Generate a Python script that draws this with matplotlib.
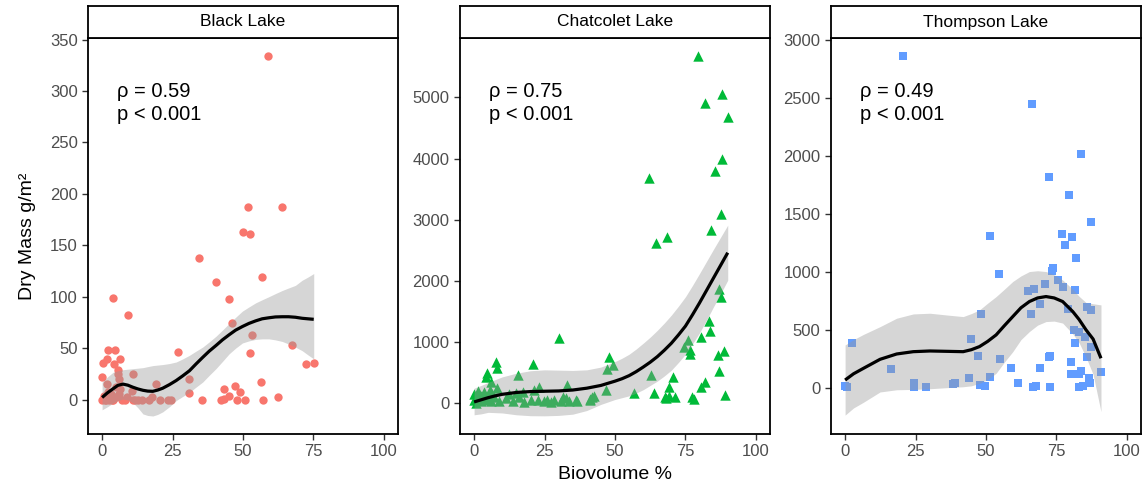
import matplotlib
matplotlib.use("Agg")
import matplotlib.pyplot as plt
import numpy as np

plt.rcParams['font.family'] = ['Liberation Sans', 'DejaVu Sans']

# ---------------- data ----------------
lakes = ["Black Lake", "Chatcolet Lake", "Thompson Lake"]
rho_labels = ["0.59", "0.75", "0.49"]
p_labels = ["< 0.001", "< 0.001", "< 0.001"]

black_x = [58.7, 51.9, 63.9, 50.1, 52.5, 34.4, 40.5, 44.9, 56.7, 3.9, 9.3, 46.2, 53.3, 67.4,
           52.6, 26.9, 72.2, 75.2, 2.0, 4.6, 0.3, 1.8, 4.2, 6.4, 5.5, 5.8, 10.8, 0.0, 6.1, 1.9,
           19.1, 30.7, 31.0, 56.4, 43.2, 47.3, 49.1, 35.5, 42.2, 43.3, 44.9, 47.9, 50.7, 57.1,
           62.5, 20.6, 23.4, 24.6, 16.5, 17.8, 12.9, 10.5, 10.8, 0.0, 0.5, 1.0, 2.5, 3.0, 4.0,
           5.0, 6.0, 7.0, 8.0, 9.0, 6.5, 5.0, 3.5, 2.0, 11.5, 14.0, 1.5]
black_y = [334, 187, 187, 163, 161, 138, 114, 98, 119, 99, 82, 74, 63, 53,
           45, 46, 35, 36, 48, 48, 36, 39, 35, 39, 29, 25, 25, 22, 20, 15,
           15, 20, 6, 17, 10, 13, 7, 0, 0, 1, 3, 0, 0, 0,
           2, 0, 0, 0, 0, 2, 0, 8, 0, 0, 3, 0, 0, 5, 0,
           2, 5, 0, 0, 2, 10, 12, 0, 7, 0, 0, 0]

chat_x = [79.4, 88.0, 82.1, 90.0, 87.9, 85.5, 62.1, 87.6, 83.9, 64.5, 68.4, 86.8, 87.6, 83.5,
          83.8, 75.9, 80.4, 74.4, 76.5, 76.7, 88.8, 86.5, 86.8, 70.6, 82.0, 80.4, 89.2, 69.2,
          64.0, 62.8, 56.8, 67.6, 68.2, 69.2, 71.2, 77.4, 78.2, 48.0, 47.1, 49.4, 46.7, 42.0,
          41.2, 36.2, 32.9, 30.1, 20.8, 15.5, 7.9, 8.2, 4.7, 4.1, 5.9,
          0.0, 0.0, 0.5, 1.0, 1.5, 2.5, 2.5, 3.5, 3.7, 4.8, 5.5, 6.0, 6.5, 7.2, 8.0, 9.0,
          11.3, 12.5, 13.7, 14.8, 16.0, 17.2, 17.8, 20.1, 21.3, 22.5, 23.1, 24.8, 26.0, 27.2,
          28.4, 30.7, 31.5, 32.5, 33.7, 36.6, 41.3, 42.5]
chat_y = [5676, 5049, 4913, 4684, 3987, 3797, 3677, 3088, 2832, 2625, 2723, 1863, 1743, 1351,
          1187, 1035, 1078, 926, 871, 806, 850, 784, 534, 436, 354, 272, 136, 261,
          163, 463, 174, 109, 82, 120, 109, 109, 71, 752, 561, 626, 218, 109,
          71, 54, 300, 1062, 637, 463, 670, 572, 490, 436, 338,
          50, 150, 0, 100, 200, 120, 30, 180, 60, 80, 220, 30, 150, 100, 250, 30,
          80, 150, 40, 163, 100, 190, 20, 50, 218, 60, 272, 30, 60, 20,
          60, 40, 100, 80, 40, 30, 60, 110]

thom_x = [20.4, 66.4, 83.6, 72.3, 79.4, 87.1, 51.3, 76.9, 80.5, 78.2, 81.8, 54.6, 73.8, 73.3,
          75.4, 71.1, 77.2, 65.0, 67.2, 81.5, 69.0, 79.0, 86.0, 87.4, 66.0, 48.2, 81.3, 82.9,
          85.0, 81.7, 44.5, 2.5, 87.4, 47.3, 72.3, 72.8, 86.0, 55.1, 80.1, 16.2, 58.8, 69.0,
          90.9, 83.7, 83.1, 80.0, 51.5, 43.8, 86.7, 86.9, 61.2, 38.2, 39.0, 47.8, 49.5, 24.3,
          24.3, 28.7, 0.0, 0.6, 66.6, 67.8, 72.6, 82.9, 84.3]
thom_y = [2862, 2450, 2020, 1816, 1666, 1435, 1314, 1326, 1303, 1231, 1121, 983, 1037, 1009,
          931, 893, 873, 836, 850, 844, 723, 680, 700, 671, 637, 637, 499, 478,
          435, 389, 421, 389, 349, 274, 262, 274, 268, 245, 225, 161, 170, 170,
          133, 144, 115, 115, 95, 86, 81, 43, 37, 32, 43, 23, 17, 37,
          3, 3, 17, 9, 6, 17, 6, 6, 14]

# smoother: x grid, fitted line, ribbon bounds
black_fit_x = [0, 1.9, 3.9, 5.6, 7.4, 9.1, 10.9, 12.7, 14.5, 16.2, 18.0, 19.7, 21.5, 23.9, 26.3,
               28.6, 31.0, 33.3, 35.7, 38.0, 40.4, 42.7, 45.1, 47.4, 49.8, 52.1, 54.5, 56.8,
               59.2, 61.5, 63.9, 66.2, 68.6, 71.0, 73.0, 75.1]
black_fit = [2, 6.5, 10.5, 13.8, 15, 14, 12, 10.3, 9, 8.2, 8, 9.2, 11, 14.5, 18.5,
             23, 28, 34.5, 41, 47, 52.5, 58, 63, 67.5, 71, 74, 76.5, 78.5,
             79.5, 80.3, 80.5, 80.5, 80, 79, 78.5, 78]
black_up = [17, 22, 26.5, 28, 29, 29.5, 30, 30.5, 31, 32, 33, 33.5, 34, 35, 36.5,
            39.5, 43, 47, 51, 56, 61.5, 67.5, 74, 80, 86, 90, 94, 97,
            100, 103, 106, 108.5, 111, 116, 119, 122.5]
black_lo = [-10, -7, -3.5, -1, 0.5, -0.5, -3, -8, -14, -15.5, -16, -14.5, -12, -7, -1,
            3, 7, 12, 17, 23.5, 30, 37, 44.5, 50, 55, 57, 58.5, 59,
            59, 58, 56.5, 54, 51, 47.5, 43.5, 39.5]

chat_fit_x = [0, 2.5, 5, 7.5, 10, 15, 20, 25, 30, 35, 40, 45, 50, 52.5, 55, 57.5, 60, 62.5, 65,
              67.5, 70, 72.5, 75, 77.5, 80, 82.5, 85, 87.5, 90]
chat_fit = [20, 55, 90, 120, 145, 175, 190, 195, 200, 215, 245, 290, 360, 400, 450, 515, 590, 670,
            760, 865, 980, 1115, 1260, 1445, 1640, 1845, 2050, 2255, 2460]
chat_up = [245, 290, 340, 385, 430, 490, 530, 545, 540, 535, 545, 590, 680, 735, 800, 885, 980,
           1080, 1190, 1310, 1440, 1585, 1740, 1925, 2120, 2320, 2520, 2715, 2910]
chat_lo = [-190, -175, -150, -155, -160, -190, -205, -207, -200, -180, -120, -20, 60, 90, 120,
           165, 220, 290, 360, 445, 540, 665, 800, 970, 1150, 1360, 1580, 1790, 2010]

thom_fit_x = [0, 3.0, 6.5, 12.4, 18.3, 24.2, 30.1, 36.0, 41.9, 44.8, 47.7, 50.6, 53.6, 56.5,
              59.5, 62.4, 65.4, 68.3, 71.3, 74.2, 77.2, 80.8, 83.0, 85.5, 88.0, 90.8]
thom_fit = [66, 120, 167, 245, 291, 311, 317, 314, 311, 328, 355, 400, 456, 535,
            614, 690, 744, 775, 787, 775, 744, 657, 590, 499, 420, 254]
thom_up = [369, 415, 460, 527, 600, 637, 643, 628, 614, 640, 672, 730, 787, 850,
           917, 965, 1003, 1010, 1003, 975, 930, 850, 790, 735, 725, 715]
thom_lo = [-237, -175, -126, -37, -18, -15, -9, 0, 8, 16, 38, 70, 125, 220,
           311, 415, 485, 540, 571, 575, 558, 464, 390, 263, 115, -207]

x_ticks = [0, 25, 50, 75, 100]
y_ticks = [[0, 50, 100, 150, 200, 250, 300, 350],
           [0, 1000, 2000, 3000, 4000, 5000],
           [0, 500, 1000, 1500, 2000, 2500, 3000]]
y_limits = [(-33.5, 351.5), (-504, 5970), (-400, 3020)]

series = [(black_x, black_y, black_fit_x, black_fit, black_up, black_lo),
          (chat_x, chat_y, chat_fit_x, chat_fit, chat_up, chat_lo),
          (thom_x, thom_y, thom_fit_x, thom_fit, thom_up, thom_lo)]
colors = ["#F8766D", "#00BA38", "#619CFF"]
markers = ["o", "^", "s"]
msizes = [36, 56, 36]

# ---------------- figure ----------------
W, H = 1148, 490
fig = plt.figure(figsize=(W / 100, H / 100), dpi=100)

lefts = [88, 460, 831]
pw = 310
top_px, bot_px, strip_top = 38, 434, 6

for i in range(3):
    px, py, fx, fy, fu, fl = series[i]
    ax = fig.add_axes([lefts[i] / W, (H - bot_px) / H, pw / W, (bot_px - top_px) / H])
    ax.scatter(px, py, s=msizes[i], marker=markers[i], color=colors[i], linewidths=0, zorder=2)
    ax.fill_between(fx, fl, fu, color="#999999", alpha=0.4, linewidth=0, zorder=3)
    ax.plot(fx, fy, color="black", lw=2.3, zorder=4, solid_capstyle="butt",
            solid_joinstyle="round")
    ax.set_xlim(-5, 105)
    ax.set_ylim(*y_limits[i])
    ax.set_xticks(x_ticks)
    ax.set_yticks(y_ticks[i])
    ax.tick_params(axis="both", labelsize=12, labelcolor="#4D4D4D", color="#333333",
                   length=4.5, width=1.0, pad=3)
    for sp in ax.spines.values():
        sp.set_linewidth(1.3)
        sp.set_color("black")
    ax.text(0.093, 0.89, "\u03c1 = " + rho_labels[i] + "\np " + p_labels[i],
            transform=ax.transAxes, fontsize=14.5, va="top", ha="left", linespacing=1.3)

    sax = fig.add_axes([lefts[i] / W, (H - top_px) / H, pw / W, (top_px - strip_top) / H])
    sax.set_xticks([])
    sax.set_yticks([])
    for sp in sax.spines.values():
        sp.set_linewidth(1.3)
        sp.set_color("black")
    sax.text(0.5, 0.5, lakes[i], transform=sax.transAxes, ha="center", va="center", fontsize=12.5)

fig.text(614.5 / W, 1 - 474 / H, "Biovolume %", ha="center", va="center", fontsize=14)
fig.text(27 / W, 1 - 236 / H, "Dry Mass g/m\u00b2", ha="center", va="center", rotation=90,
         fontsize=14)

fig.savefig("out.png", dpi=100)
